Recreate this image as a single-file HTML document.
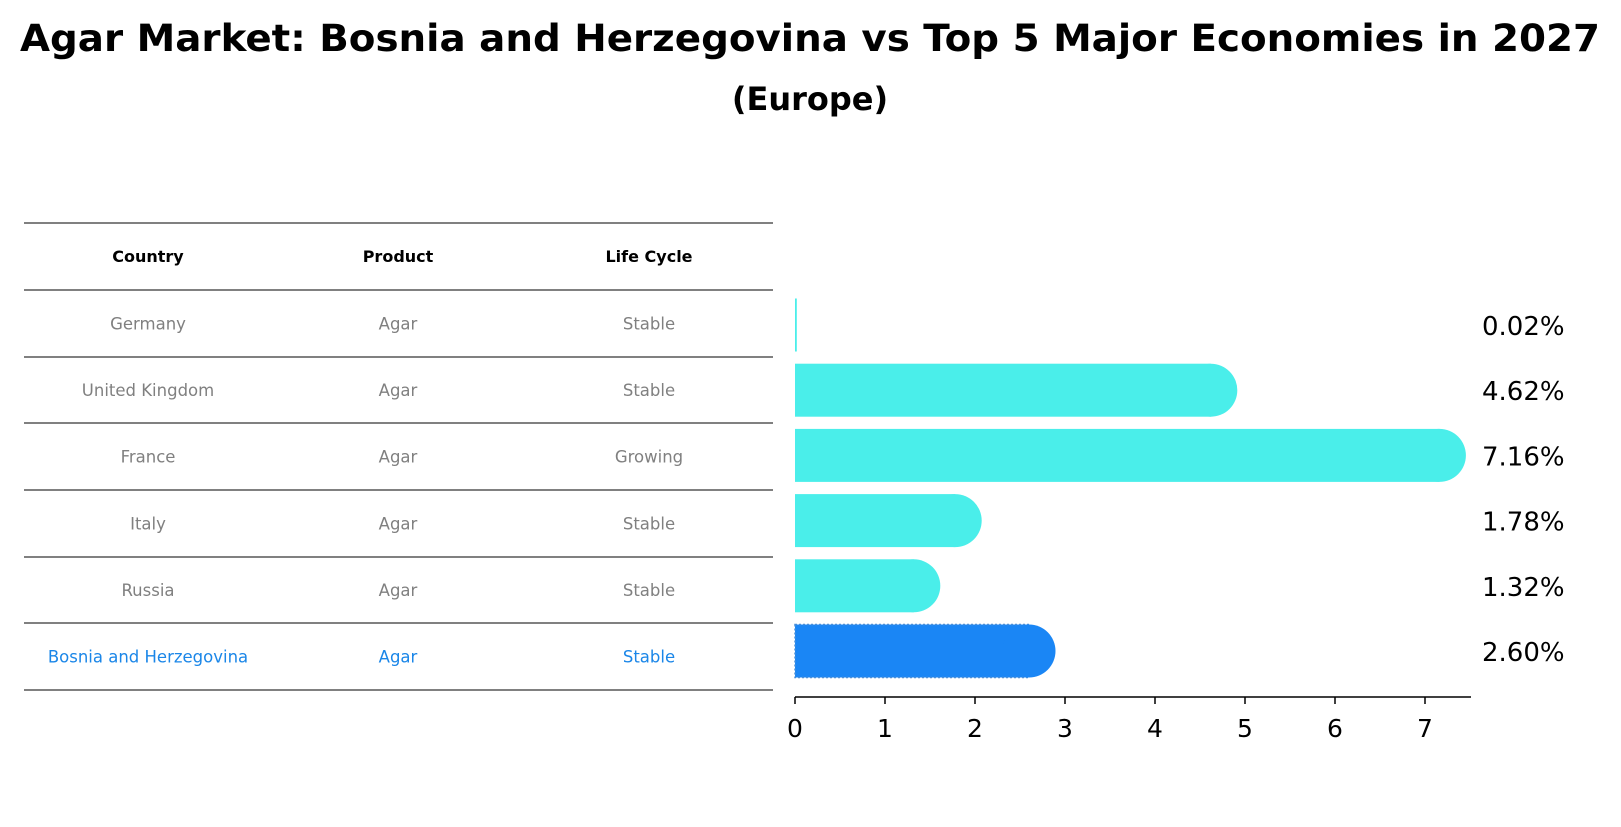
<!DOCTYPE html>
<html><head><meta charset="utf-8"><style>
body{margin:0;background:#fff;width:1621px;height:823px;overflow:hidden;font-family:"DejaVu Sans","Liberation Sans",sans-serif}
</style></head><body>
<svg width="1621" height="823" xmlns="http://www.w3.org/2000/svg">
<text x="810" y="51" text-anchor="middle" font-size="37" font-weight="bold" textLength="1580" lengthAdjust="spacingAndGlyphs">Agar Market: Bosnia and Herzegovina vs Top 5 Major Economies in 2027</text>
<text x="810" y="110" text-anchor="middle" font-size="32" font-weight="bold">(Europe)</text>
<g id="table"></g>
<g id="bars"></g>
</svg>
<script>
const countries=["Germany","United Kingdom","France","Italy","Russia","Bosnia and Herzegovina"];
const products=["Agar","Agar","Agar","Agar","Agar","Agar"];
const lifecycles=["Stable","Stable","Growing","Stable","Stable","Stable"];
const values=[0.02,4.62,7.16,1.78,1.32,2.60];
const ticks=[0,1,2,3,4,5,6,7];
const NS="http://www.w3.org/2000/svg";
function mk(tag,attrs,parent){const e=document.createElementNS(NS,tag);for(const k in attrs)e.setAttribute(k,attrs[k]);parent.appendChild(e);return e;}
const tbl=document.getElementById('table');
const lineYs=[223,290,357,423,490,557,623,690];
lineYs.forEach(y=>{const l=mk('line',{x1:24,x2:773,y1:y,y2:y,stroke:'#000','stroke-width':1},tbl);

});
const colX=[148,398,649];
["Country","Product","Life Cycle"].forEach((h,i)=>{const t=mk('text',{x:colX[i],y:262,'text-anchor':'middle','font-size':16,'font-weight':'bold'},tbl);t.textContent=h;

});
countries.forEach((c,r)=>{const y=(lineYs[r+1]+lineYs[r+2])/2+6;const last=r===countries.length-1;const col=last?'#1a86e8':'#808080';
[c,products[r],lifecycles[r]].forEach((v,i)=>{const t=mk('text',{x:colX[i],y:y,'text-anchor':'middle','font-size':16.5,fill:col},tbl);t.textContent=v;

});});
const g=document.getElementById('bars');
const x0=795,ux=90,y0=325,dy=65.2,bh=53;
const X=v=>x0+v*ux;
values.forEach((v,i)=>{const cy=y0+i*dy;const last=i===values.length-1;const col=last?'#1a86f5':'#4aeeea';
const grp=mk('g',{},g);


const w=Math.max(X(v)-x0,1.5);
mk('rect',{x:x0,y:cy-bh/2,width:w,height:bh,fill:col,stroke:last?'#4a8fd8':'none','stroke-dasharray':'2,2','stroke-width':1.5},grp);
if(v>0.1)mk('circle',{cx:X(v),cy:cy,r:bh/2,fill:col},grp);
const t=mk('text',{x:1482,y:cy+10,'font-size':26},g);t.textContent=v.toFixed(2)+'%';

});
const ax=mk('line',{x1:x0,x2:1471,y1:697,y2:697,stroke:'#000','stroke-width':1.5},g);


ticks.forEach(tv=>{mk('line',{x1:X(tv),x2:X(tv),y1:697,y2:704,stroke:'#000','stroke-width':1.5},g);
const t=mk('text',{x:X(tv),y:737,'text-anchor':'middle','font-size':25},g);t.textContent=tv;

});
</script>
</body></html>
